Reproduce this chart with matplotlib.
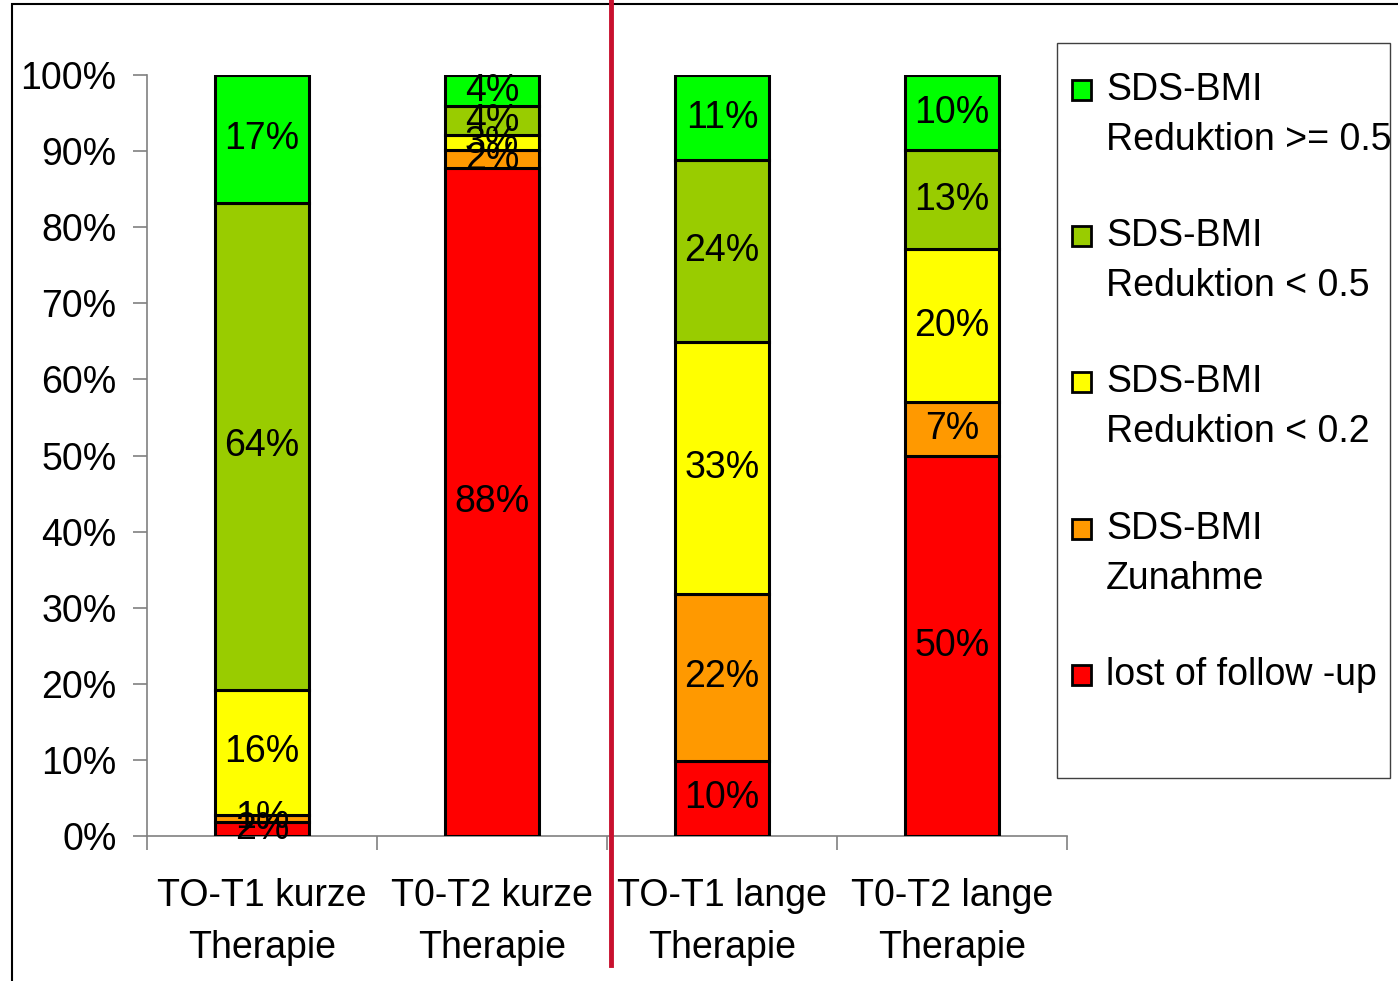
import matplotlib
matplotlib.use("Agg")
import matplotlib.pyplot as plt
from matplotlib.patches import Rectangle
from matplotlib.lines import Line2D
import numpy as np

plt.rcParams['font.family'] = ['Liberation Sans', 'DejaVu Sans']

# Data (share of patients, %), bottom to top
categories = ["TO-T1 kurze\nTherapie", "T0-T2 kurze\nTherapie",
              "TO-T1 lange\nTherapie", "T0-T2 lange\nTherapie"]
series_names = ["lost of follow -up", "SDS-BMI\nZunahme", "SDS-BMI\nReduktion < 0.2",
                "SDS-BMI\nReduktion < 0.5", "SDS-BMI\nReduktion >= 0.5"]
lost = [1.8, 87.8, 9.9, 50.0]
zunahme = [1.0, 2.3, 21.9, 7.0]
red_02 = [16.4, 2.0, 33.1, 20.1]
red_05 = [64.0, 3.8, 23.9, 13.0]
red_ge05 = [16.8, 4.1, 11.2, 9.9]
labels = [["2%", "88%", "10%", "50%"],
          ["1%", "2%", "22%", "7%"],
          ["16%", "3%", "33%", "20%"],
          ["64%", "4%", "24%", "13%"],
          ["17%", "4%", "11%", "10%"]]
colors = ["#FF0000", "#FF9900", "#FFFF00", "#99CC00", "#00FF00"]

W, H = 1398, 981
fig = plt.figure(figsize=(W / 100, H / 100), dpi=100)
ax = fig.add_axes([147 / W, 1 - 836 / H, 920 / W, 761 / H])

x = np.arange(len(categories))
bottom = np.zeros(len(categories))
for vals, col, labs in zip([lost, zunahme, red_02, red_05, red_ge05], colors, labels):
    vals = np.array(vals)
    ax.bar(x, vals, width=0.41, bottom=bottom, color=col, edgecolor="black", linewidth=2.2, zorder=3)
    for xi, b, v, t in zip(x, bottom, vals, labs):
        ax.text(xi, b + v / 2, t, ha="center", va="center", fontsize=27, zorder=4)
    bottom += vals

ax.set_xlim(-0.5, 3.5)
ax.set_ylim(0, 100)
ax.set_yticks(np.arange(0, 101, 10))
ax.set_yticklabels([f"{v}%" for v in range(0, 101, 10)], fontsize=27)
ax.set_xticks(x)
ax.set_xticklabels(categories, fontsize=27, linespacing=1.6)
ax.set_xticks(np.arange(-0.5, 4, 1), minor=True)
ax.tick_params(axis="x", which="major", length=0, pad=30)
ax.tick_params(axis="x", which="minor", length=10, color="#808080", width=1.2)
ax.tick_params(axis="y", length=10, color="#808080", width=1.2, pad=12)
for s in ["top", "right"]:
    ax.spines[s].set_visible(False)
for s in ["left", "bottom"]:
    ax.spines[s].set_color("#808080")
    ax.spines[s].set_linewidth(1.2)

# outer frame and separator line
fig.add_artist(Rectangle((12 / W, -0.05), 1.1, 1.05 - 4 / H, transform=fig.transFigure,
                         fill=False, edgecolor="black", linewidth=1.5))
fig.add_artist(Line2D([611 / W, 611 / W], [1 - 965 / H, 1], transform=fig.transFigure,
                      color="#C8102E", linewidth=3.5))

# legend, drawn by hand to keep the wide spacing of the original
fig.add_artist(Rectangle((1057 / W, 1 - 778 / H), 333 / W, 735 / H,
                         transform=fig.transFigure, fill=False, edgecolor="#404040", linewidth=1))
for i, (name, col) in enumerate(zip(series_names[::-1], colors[::-1])):
    yc = 90 + i * 146.2
    fig.add_artist(Rectangle((1072 / W, 1 - (yc + 10) / H), 19 / W, 20 / H,
                             transform=fig.transFigure, facecolor=col, edgecolor="black", linewidth=2))
    for j, line in enumerate(name.split("\n")):
        fig.text(1106 / W, 1 - (yc + 50 * j) / H, line, fontsize=27, ha="left", va="center")

fig.savefig("out.png", dpi=100)
